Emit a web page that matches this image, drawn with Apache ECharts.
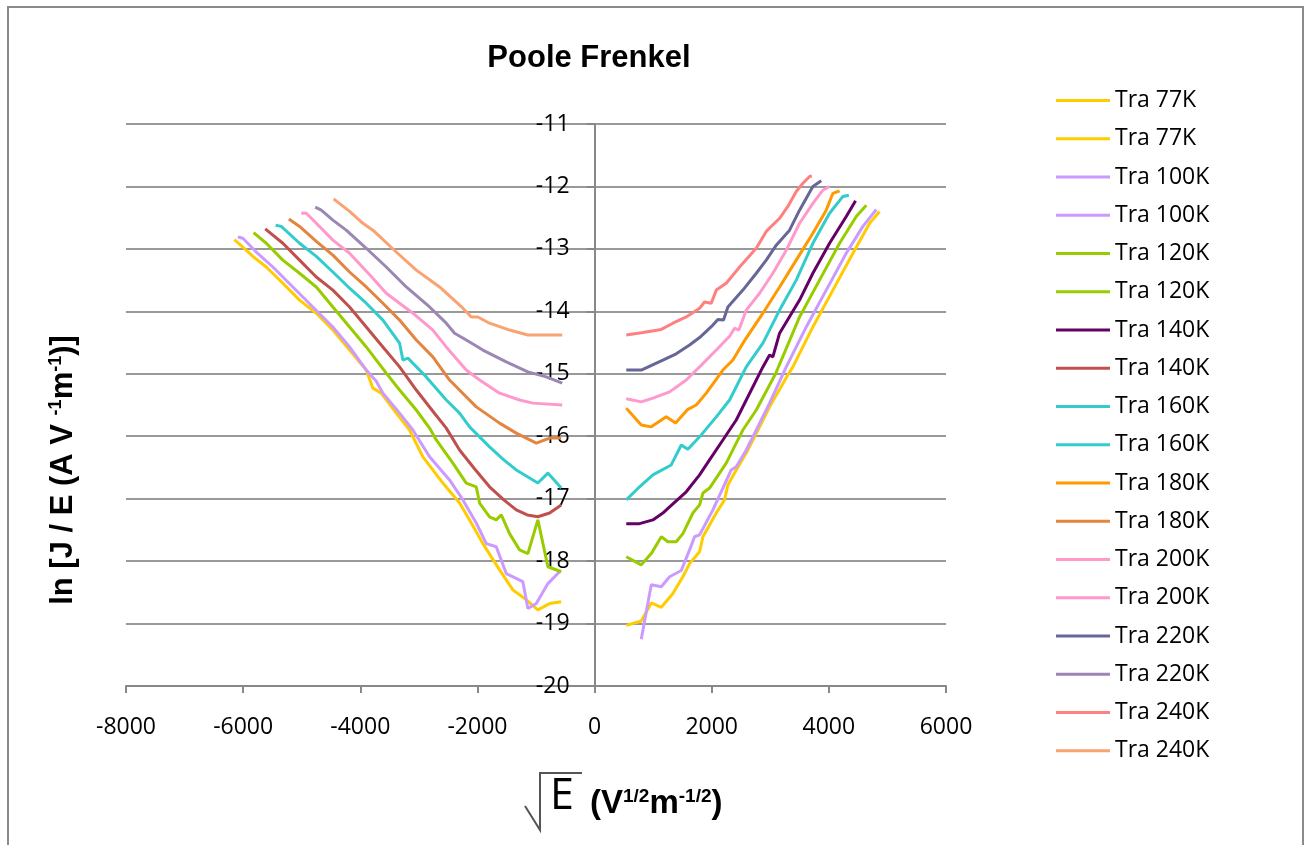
<!DOCTYPE html>
<html>
<head>
<meta charset="utf-8">
<script src="https://cdn.jsdelivr.net/npm/echarts@6/dist/echarts.min.js"></script>
<style>
html,body{margin:0;padding:0;background:#fff;}
#c{width:1312px;height:845px;}
</style>
</head>
<body>
<div id="c"></div>
<script>
// ---- data (x = sqrt(E) in V^1/2 m^-1/2, y = ln[J/E]) ----
const temps = ['77K','100K','120K','140K','160K','180K','200K','220K','240K'];
const xTicks = [-8000,-6000,-4000,-2000,0,2000,4000,6000];
const yTicks = [-20,-19,-18,-17,-16,-15,-14,-13,-12,-11];

const pos77 = [[541,-19.03],[797,-18.96],[968,-18.67],[1139,-18.74],[1337,-18.52],[1508,-18.25],[1622,-18.04],[1793,-17.85],[1850,-17.61],[2078,-17.23],[2219,-17.02],[2276,-16.78],[2390,-16.59],[2590,-16.27],[2817,-15.85],[2988,-15.53],[3300,-15.02],[3386,-14.89],[3727,-14.25],[4069,-13.66],[4411,-13.07],[4696,-12.59],[4866,-12.40]];
const neg77 = [[-6150,-12.85],[-6005,-12.97],[-5834,-13.12],[-5605,-13.29],[-5322,-13.55],[-5037,-13.82],[-4751,-14.03],[-4468,-14.30],[-4183,-14.62],[-3898,-14.94],[-3785,-15.23],[-3642,-15.31],[-3386,-15.63],[-3159,-15.90],[-2931,-16.33],[-2590,-16.75],[-2305,-17.07],[-2134,-17.34],[-1907,-17.72],[-1622,-18.14],[-1395,-18.46],[-1166,-18.62],[-968,-18.78],[-768,-18.68],[-569,-18.65]];
const pos100 = [[797,-19.25],[968,-18.38],[1139,-18.41],[1281,-18.25],[1480,-18.15],[1622,-17.82],[1707,-17.61],[1793,-17.58],[2020,-17.18],[2191,-16.83],[2333,-16.54],[2419,-16.49],[2590,-16.22],[2761,-15.90],[2988,-15.47],[3273,-14.89],[3614,-14.25],[3955,-13.66],[4297,-13.07],[4581,-12.64],[4810,-12.37]];
const neg100 = [[-6090,-12.81],[-6005,-12.83],[-5776,-13.05],[-5492,-13.29],[-5151,-13.61],[-4810,-13.93],[-4468,-14.25],[-4183,-14.57],[-3898,-14.94],[-3727,-15.12],[-3614,-15.31],[-3329,-15.63],[-3102,-15.90],[-2817,-16.33],[-2476,-16.70],[-2248,-17.02],[-2020,-17.39],[-1849,-17.72],[-1679,-17.77],[-1508,-18.20],[-1224,-18.33],[-1139,-18.76],[-995,-18.68],[-797,-18.36],[-598,-18.17]];
const pos120 = [[541,-17.93],[797,-18.06],[968,-17.88],[1139,-17.61],[1252,-17.69],[1394,-17.69],[1508,-17.56],[1679,-17.23],[1793,-17.10],[1850,-16.91],[1963,-16.83],[2248,-16.43],[2419,-16.11],[2532,-15.90],[2761,-15.58],[3090,-15.00],[3500,-14.09],[3841,-13.50],[4183,-12.91],[4468,-12.48],[4639,-12.30]];
const neg120 = [[-5822,-12.74],[-5605,-12.91],[-5322,-13.18],[-5037,-13.39],[-4751,-13.61],[-4468,-13.93],[-4183,-14.25],[-3898,-14.57],[-3557,-14.99],[-3329,-15.26],[-3044,-15.58],[-2817,-15.87],[-2703,-16.06],[-2419,-16.43],[-2191,-16.75],[-2020,-16.81],[-1963,-17.07],[-1793,-17.29],[-1679,-17.34],[-1593,-17.26],[-1451,-17.56],[-1281,-17.82],[-1139,-17.88],[-968,-17.34],[-797,-18.09],[-569,-18.17]];
const pos140 = [[541,-17.40],[768,-17.40],[996,-17.34],[1166,-17.23],[1281,-17.13],[1565,-16.89],[1793,-16.62],[1963,-16.38],[2191,-16.06],[2419,-15.74],[2590,-15.42],[2874,-14.89],[2988,-14.70],[3044,-14.73],[3159,-14.35],[3500,-13.82],[3727,-13.39],[4012,-12.91],[4297,-12.48],[4456,-12.23]];
const neg140 = [[-5623,-12.68],[-5322,-12.91],[-5037,-13.18],[-4751,-13.45],[-4468,-13.66],[-4183,-13.93],[-3898,-14.25],[-3614,-14.57],[-3329,-14.89],[-3044,-15.26],[-2761,-15.60],[-2532,-15.87],[-2305,-16.22],[-2050,-16.52],[-1793,-16.81],[-1550,-17.02],[-1337,-17.18],[-1150,-17.26],[-968,-17.29],[-768,-17.23],[-569,-17.10]];
const pos160 = [[541,-17.02],[768,-16.81],[996,-16.62],[1309,-16.46],[1480,-16.14],[1593,-16.21],[1793,-16.01],[2078,-15.69],[2305,-15.42],[2590,-14.89],[2874,-14.51],[3159,-13.98],[3443,-13.50],[3727,-12.91],[4012,-12.43],[4240,-12.16],[4342,-12.14]];
const neg160 = [[-5446,-12.62],[-5349,-12.64],[-5037,-12.91],[-4751,-13.12],[-4468,-13.37],[-4183,-13.63],[-3898,-13.87],[-3614,-14.14],[-3329,-14.51],[-3273,-14.78],[-3187,-14.75],[-2874,-15.05],[-2532,-15.42],[-2305,-15.63],[-2134,-15.85],[-1793,-16.17],[-1550,-16.38],[-1337,-16.54],[-968,-16.75],[-797,-16.59],[-569,-16.83]];
const pos180 = [[541,-15.55],[797,-15.82],[968,-15.85],[1224,-15.69],[1383,-15.79],[1593,-15.57],[1736,-15.50],[1907,-15.31],[2191,-14.94],[2362,-14.78],[2532,-14.51],[2874,-14.03],[3159,-13.61],[3443,-13.18],[3727,-12.75],[3955,-12.38],[4069,-12.11],[4183,-12.07]];
const neg180 = [[-5219,-12.52],[-5037,-12.64],[-4751,-12.88],[-4468,-13.10],[-4183,-13.37],[-3898,-13.61],[-3614,-13.87],[-3329,-14.14],[-3044,-14.46],[-2761,-14.73],[-2476,-15.10],[-2020,-15.53],[-1622,-15.79],[-1337,-15.95],[-995,-16.11],[-768,-16.03],[-569,-16.03]];
const pos200 = [[541,-15.40],[797,-15.45],[996,-15.39],[1281,-15.29],[1565,-15.10],[1793,-14.89],[2078,-14.62],[2305,-14.40],[2390,-14.27],[2464,-14.30],[2590,-13.98],[2817,-13.71],[3044,-13.39],[3273,-13.02],[3500,-12.59],[3727,-12.27],[3898,-12.06],[4012,-12.00]];
const neg200 = [[-5008,-12.43],[-4922,-12.43],[-4751,-12.59],[-4468,-12.86],[-4183,-13.07],[-3785,-13.47],[-3557,-13.71],[-3102,-14.03],[-2761,-14.30],[-2532,-14.57],[-2191,-14.94],[-1963,-15.10],[-1622,-15.31],[-1281,-15.42],[-1053,-15.47],[-552,-15.50]];
const pos220 = [[541,-14.94],[797,-14.94],[1166,-14.78],[1394,-14.68],[1622,-14.54],[1793,-14.42],[2020,-14.22],[2105,-14.13],[2202,-14.14],[2276,-13.93],[2532,-13.66],[2761,-13.39],[2931,-13.18],[3102,-12.94],[3329,-12.70],[3500,-12.38],[3727,-12.00],[3870,-11.91]];
const neg220 = [[-4769,-12.33],[-4666,-12.38],[-4468,-12.54],[-4240,-12.70],[-3898,-12.99],[-3557,-13.29],[-3215,-13.61],[-2817,-13.93],[-2532,-14.19],[-2390,-14.35],[-2191,-14.46],[-1907,-14.62],[-1508,-14.81],[-1139,-14.97],[-825,-15.05],[-552,-15.15]];
const pos240 = [[541,-14.38],[825,-14.34],[1139,-14.29],[1337,-14.19],[1565,-14.09],[1793,-13.95],[1878,-13.85],[1992,-13.87],[2078,-13.66],[2248,-13.55],[2476,-13.29],[2760,-12.99],[2931,-12.72],[3159,-12.51],[3300,-12.32],[3443,-12.08],[3557,-11.95],[3671,-11.84],[3710,-11.83]];
const neg240 = [[-4456,-12.20],[-4183,-12.40],[-3955,-12.59],[-3785,-12.70],[-3386,-13.05],[-3044,-13.34],[-2646,-13.61],[-2248,-13.95],[-2105,-14.09],[-1992,-14.09],[-1793,-14.19],[-1451,-14.30],[-1139,-14.38],[-552,-14.38]];

const posData = [pos77,pos100,pos120,pos140,pos160,pos180,pos200,pos220,pos240];
const negData = [neg77,neg100,neg120,neg140,neg160,neg180,neg200,neg220,neg240];

// ---- styles ----
const posColors = ['#FFCC00','#CC99FF','#99CC00','#660066','#33CCCC','#FF9900','#FF99CC','#666699','#FF8080'];
const negColors = ['#FFCC00','#CC99FF','#99CC00','#C0504D','#33CCCC','#E3853F','#FF99CC','#9B87B3','#F9A372'];

const series = [];
temps.forEach((t, i) => {
  series.push({name: 'Tra ' + t, type: 'line', data: posData[i], showSymbol: false, symbol: 'none',
    lineStyle: {width: 3, color: posColors[i]}, itemStyle: {color: posColors[i]}, animation: false});
  series.push({name: 'Tra ' + t + ' ', type: 'line', data: negData[i], showSymbol: false, symbol: 'none',
    lineStyle: {width: 3, color: negColors[i]}, itemStyle: {color: negColors[i]}, animation: false});
});

// grid geometry; the vertical axis crosses at x = 0
const gridLeft = 126, gridRight = 366;
const plotW = 1312 - gridLeft - gridRight;
const xMin = xTicks[0], xMax = xTicks[xTicks.length - 1];
const yAxisOffset = -((0 - xMin) / (xMax - xMin)) * plotW;

const chart = echarts.init(document.getElementById('c'), null, {renderer: 'canvas'});
const supB = {fontFamily: 'Liberation Sans', fontWeight: 'bold', fill: '#000'};
chart.setOption({
  backgroundColor: '#ffffff',
  animation: false,
  grid: {left: gridLeft, right: gridRight, top: 124, bottom: 159, containLabel: false},
  xAxis: {
    type: 'value', min: xMin, max: xMax, interval: 2000,
    axisLine: {show: true, onZero: false, lineStyle: {color: '#888', width: 2}},
    axisTick: {show: true, length: 7, lineStyle: {color: '#888', width: 2}},
    axisLabel: {margin: 30, fontFamily: 'Open Sans', fontSize: 23, color: '#000', formatter: v => String(v)},
    splitLine: {show: false}
  },
  yAxis: {
    type: 'value', min: yTicks[0], max: yTicks[yTicks.length - 1], interval: 1,
    position: 'left', offset: yAxisOffset,
    axisLine: {show: true, onZero: false, lineStyle: {color: '#888', width: 2}},
    axisTick: {show: true, length: 8, lineStyle: {color: '#888', width: 2}},
    axisLabel: {margin: 25, fontFamily: 'Open Sans', fontSize: 23, color: '#000', formatter: v => String(v)},
    splitLine: {show: true, lineStyle: {color: '#999', width: 2}}
  },
  legend: {
    orient: 'vertical', left: 1056, top: 89, padding: 0, itemGap: 15.25,
    itemWidth: 54, itemHeight: 3, icon: 'rect', selectedMode: false,
    formatter: n => n.trim(),
    textStyle: {fontFamily: 'Open Sans', fontSize: 23, lineHeight: 23, color: '#000'}
  },
  graphic: [
    {type: 'rect', silent: true, shape: {x: 8, y: 7, width: 1295, height: 870},
     style: {fill: 'none', stroke: '#8a8a8a', lineWidth: 2}},
    {type: 'text', x: 589, y: 58, silent: true,
     style: {text: 'Poole Frenkel', font: 'bold 31px "Liberation Sans"', fill: '#000', align: 'center', verticalAlign: 'middle'}},
    {type: 'polyline', silent: true, shape: {points: [[525, 806], [540, 830], [540, 773], [582, 773]]},
     style: {stroke: '#555', lineWidth: 2, fill: null}},
    {type: 'text', x: 550, y: 797, silent: true,
     style: {text: 'E', font: '43px "Open Sans"', fill: '#000', align: 'left', verticalAlign: 'middle'}},
    {type: 'text', x: 590, y: 804, silent: true,
     style: {text: '{b|(V}{s|1/2}{b|m}{s|-1/2}{b|)}', align: 'left', verticalAlign: 'middle',
       rich: {
         b: Object.assign({fontSize: 33, lineHeight: 33, verticalAlign: 'bottom'}, supB),
         s: Object.assign({fontSize: 19, lineHeight: 19, verticalAlign: 'top'}, supB)
       }}},
    {type: 'text', x: 63, y: 470, rotation: Math.PI / 2, silent: true,
     style: {text: '{b|ln [J / E (A V }{s|-1}{b|m}{s|-1}{b|)]}', align: 'center', verticalAlign: 'middle',
       rich: {
         b: Object.assign({fontSize: 31, lineHeight: 31, verticalAlign: 'bottom'}, supB),
         s: Object.assign({fontSize: 18, lineHeight: 18, verticalAlign: 'top'}, supB)
       }}}
  ],
  series: series
});
</script>
</body>
</html>
